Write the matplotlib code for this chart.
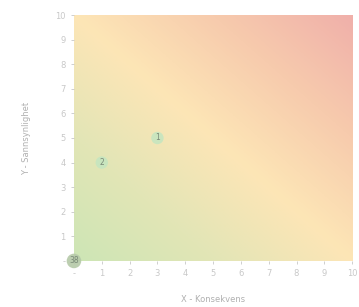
import matplotlib.pyplot as plt
import numpy as np
from matplotlib.colors import LinearSegmentedColormap

# risk items: (konsekvens, sannsynlighet, label)
x_vals = [3, 1, 0]
y_vals = [5, 4, 0]
labels = ["1", "2", "38"]
ticks = list(range(11))
tick_labels = ["-"] + [str(i) for i in range(1, 11)]

fig = plt.figure(figsize=(3.59, 3.07), dpi=100)
ax = fig.add_axes([0.206, 0.150, 0.775, 0.801])

# diagonal background gradient green -> yellow -> red
cmap = LinearSegmentedColormap.from_list(
    "risk", [(0, "#cde6b5"), (0.25, "#e2e5b6"), (0.5, "#fde6b6"),
             (0.75, "#f7cbad"), (1, "#f0b0aa")])
gx, gy = np.meshgrid(np.linspace(0, 10, 200), np.linspace(0, 10, 200))
ax.imshow((gx + gy) / 20, extent=[0, 10, 0, 10], origin="lower",
          cmap=cmap, aspect="auto", zorder=0)

for x, y, lab in zip(x_vals, y_vals, labels):
    big = len(lab) > 1
    ax.scatter(x, y, s=110 if big else 80,
               color="#b5c9a8" if big else "#c6e5c0", alpha=0.9,
               edgecolors="none", zorder=3, clip_on=False)
    ax.text(x, y, lab, ha="center", va="center", fontsize=5.5,
            color="#7a8a78", zorder=4)

ax.set_xlim(0, 10)
ax.set_ylim(0, 10)
ax.set_xticks(ticks)
ax.set_xticklabels(tick_labels)
ax.set_yticks(ticks)
ax.set_yticklabels(tick_labels)
ax.tick_params(labelsize=6, colors="#c8c8c8", length=2, width=0.6, pad=4)
for s in ax.spines.values():
    s.set_visible(False)

ax.set_xlabel("X - Konsekvens", fontsize=6, color="#b0b0b0", labelpad=12)
ax.set_ylabel("Y - Sannsynlighet", fontsize=6, color="#b0b0b0", labelpad=17)

fig.savefig("out.png", dpi=100)
